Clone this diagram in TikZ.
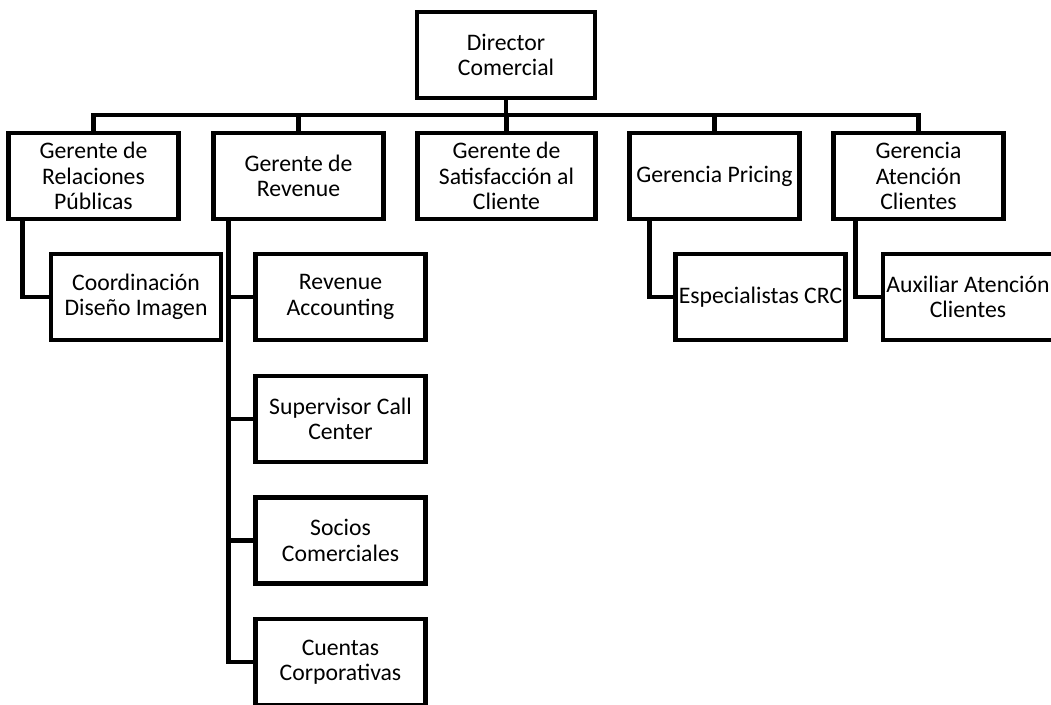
\documentclass[tikz,border=0pt]{standalone}
\usepackage{fontspec}
\setmainfont{Carlito}
\usetikzlibrary{positioning, calc}

\begin{document}
\begin{tikzpicture}[
    x=0.02cm, y=-0.02cm,
    unit/.style={rectangle, draw, line width=2.7pt, inner sep=0pt,
                 minimum width=3.4cm, minimum height=1.72cm, align=center,
                 font=\fontsize{13.5}{14.5}\selectfont},
    wide/.style={unit, minimum width=3.56cm},
    link/.style={line width=2.7pt, line cap=rect}
]
    \useasboundingbox (0,0) rectangle (1051,704);

    % Top level
    \node[wide] (dir) at (506,55) {Director\\Comercial};

    % Managers
    \node[unit] (relpub) at (93.5,176) {Gerente de\\Relaciones\\Públicas};
    \node[unit] (revenue) at (298.5,176) {Gerente de\\Revenue};
    \node[wide] (satisf) at (506.5,176) {Gerente de\\Satisfacción al\\Cliente};
    \node[unit] (pricing) at (714.5,176) {Gerencia Pricing};
    \node[unit] (atencion) at (918.5,176) {Gerencia\\Atención\\Clientes};

    % Staff
    \node[unit] (coord) at (136,297) {Coordinación\\Diseño Imagen};
    \node[unit] (revacc) at (340.5,297) {Revenue\\Accounting};
    \node[unit] (callc) at (340.5,419) {Supervisor Call\\Center};
    \node[unit] (socios) at (340.5,540.5) {Socios\\Comerciales};
    \node[unit] (cuentas) at (340.5,662) {Cuentas\\Corporativas};
    \node[unit] (especial) at (760.5,297) {Especialistas CRC};
    \node[unit] (auxiliar) at (968,297) {Auxiliar Atención\\Clientes};

    % Bus below the director
    \coordinate (bus) at (506,115);
    \draw[link] (dir.south) -- (bus);
    \draw[link] (relpub.north) |- (bus) -| (atencion.north);
    \draw[link] (revenue.north) -- (revenue.north |- bus);
    \draw[link] (satisf.north) -- (satisf.north |- bus);
    \draw[link] (pricing.north) -- (pricing.north |- bus);

    % Side branches
    \draw[link] ([xshift=0.32cm]relpub.south west) |- (coord.west);
    \draw[link] ([xshift=0.34cm]revenue.south west) |- (cuentas.west);
    \draw[link] ([xshift=0.34cm]revenue.south west) |- (revacc.west);
    \draw[link] ([xshift=0.34cm]revenue.south west) |- (callc.west);
    \draw[link] ([xshift=0.34cm]revenue.south west) |- (socios.west);
    \draw[link] ([xshift=0.44cm]pricing.south west) |- (especial.west);
    \draw[link] ([xshift=0.48cm]atencion.south west) |- (auxiliar.west);
\end{tikzpicture}
\end{document}
